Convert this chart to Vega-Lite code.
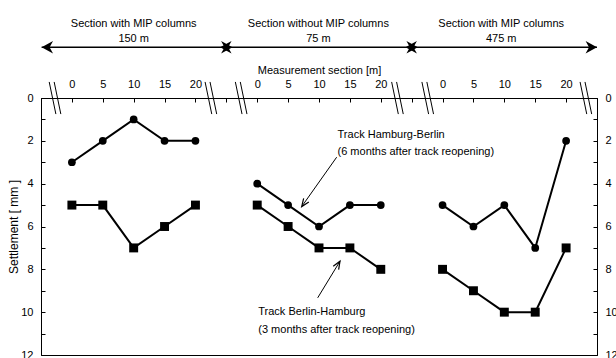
{
  "$schema": "https://vega.github.io/schema/vega-lite/v6.json",
  "autosize": {"type": "none"},
  "padding": {"left": 41, "top": 98, "right": 19, "bottom": 3},
  "width": 556,
  "height": 257,
  "config": {
    "font": "Liberation Sans",
    "view": {"stroke": "#000", "strokeWidth": 1},
    "axis": {"domainColor": "#000", "tickColor": "#000", "tickWidth": 1, "labelColor": "#000", "titleColor": "#000", "labelFontSize": 11, "titleFontSize": 11, "titleFontWeight": "normal", "grid": false, "labelFont": "Liberation Sans", "titleFont": "Liberation Sans"},
    "text": {"font": "Liberation Sans", "fontSize": 11, "color": "#000"}
  },
  "datasets": {
    "settlement": [
      {"track": "Hamburg-Berlin", "section": 1, "x": 0, "settlement": 3},
      {"track": "Hamburg-Berlin", "section": 1, "x": 5, "settlement": 2},
      {"track": "Hamburg-Berlin", "section": 1, "x": 10, "settlement": 1},
      {"track": "Hamburg-Berlin", "section": 1, "x": 15, "settlement": 2},
      {"track": "Hamburg-Berlin", "section": 1, "x": 20, "settlement": 2},
      {"track": "Hamburg-Berlin", "section": 2, "x": 30, "settlement": 4},
      {"track": "Hamburg-Berlin", "section": 2, "x": 35, "settlement": 5},
      {"track": "Hamburg-Berlin", "section": 2, "x": 40, "settlement": 6},
      {"track": "Hamburg-Berlin", "section": 2, "x": 45, "settlement": 5},
      {"track": "Hamburg-Berlin", "section": 2, "x": 50, "settlement": 5},
      {"track": "Hamburg-Berlin", "section": 3, "x": 60, "settlement": 5},
      {"track": "Hamburg-Berlin", "section": 3, "x": 65, "settlement": 6},
      {"track": "Hamburg-Berlin", "section": 3, "x": 70, "settlement": 5},
      {"track": "Hamburg-Berlin", "section": 3, "x": 75, "settlement": 7},
      {"track": "Hamburg-Berlin", "section": 3, "x": 80, "settlement": 2},
      {"track": "Berlin-Hamburg", "section": 1, "x": 0, "settlement": 5},
      {"track": "Berlin-Hamburg", "section": 1, "x": 5, "settlement": 5},
      {"track": "Berlin-Hamburg", "section": 1, "x": 10, "settlement": 7},
      {"track": "Berlin-Hamburg", "section": 1, "x": 15, "settlement": 6},
      {"track": "Berlin-Hamburg", "section": 1, "x": 20, "settlement": 5},
      {"track": "Berlin-Hamburg", "section": 2, "x": 30, "settlement": 5},
      {"track": "Berlin-Hamburg", "section": 2, "x": 35, "settlement": 6},
      {"track": "Berlin-Hamburg", "section": 2, "x": 40, "settlement": 7},
      {"track": "Berlin-Hamburg", "section": 2, "x": 45, "settlement": 7},
      {"track": "Berlin-Hamburg", "section": 2, "x": 50, "settlement": 8},
      {"track": "Berlin-Hamburg", "section": 3, "x": 60, "settlement": 8},
      {"track": "Berlin-Hamburg", "section": 3, "x": 65, "settlement": 9},
      {"track": "Berlin-Hamburg", "section": 3, "x": 70, "settlement": 10},
      {"track": "Berlin-Hamburg", "section": 3, "x": 75, "settlement": 10},
      {"track": "Berlin-Hamburg", "section": 3, "x": 80, "settlement": 7}
    ],
    "breaks": [
      {"xa": -3.67, "xb": -2.59, "ya": -0.75, "yb": 0.75},
      {"xa": -2.87, "xb": -1.79, "ya": -0.75, "yb": 0.75},
      {"xa": 21.56, "xb": 22.64, "ya": -0.75, "yb": 0.75},
      {"xa": 22.36, "xb": 23.44, "ya": -0.75, "yb": 0.75},
      {"xa": 26.46, "xb": 27.54, "ya": -0.75, "yb": 0.75},
      {"xa": 27.26, "xb": 28.34, "ya": -0.75, "yb": 0.75},
      {"xa": 51.76, "xb": 52.84, "ya": -0.75, "yb": 0.75},
      {"xa": 52.56, "xb": 53.64, "ya": -0.75, "yb": 0.75},
      {"xa": 56.66, "xb": 57.74, "ya": -0.75, "yb": 0.75},
      {"xa": 57.46, "xb": 58.54, "ya": -0.75, "yb": 0.75},
      {"xa": 82.26, "xb": 83.34, "ya": -0.75, "yb": 0.75},
      {"xa": 83.06, "xb": 84.14, "ya": -0.75, "yb": 0.75}
    ],
    "headers": [
      {"x": 10, "y": -3.47, "text": "Section with MIP columns"},
      {"x": 10, "y": -2.76, "text": "150 m"},
      {"x": 39.9, "y": -3.47, "text": "Section without MIP columns"},
      {"x": 39.9, "y": -2.76, "text": "75 m"},
      {"x": 69.5, "y": -3.47, "text": "Section with MIP columns"},
      {"x": 69.5, "y": -2.76, "text": "475 m"}
    ],
    "span": [
      {"xa": -4.9, "xb": 85, "y": -2.37}
    ],
    "spanHeads": [
      {"x": -4.9, "y": -2.37, "dir": "left"},
      {"x": 24.0, "y": -2.37, "dir": "left"},
      {"x": 26.0, "y": -2.37, "dir": "right"},
      {"x": 54.0, "y": -2.37, "dir": "left"},
      {"x": 56.0, "y": -2.37, "dir": "right"},
      {"x": 85, "y": -2.37, "dir": "right"}
    ],
    "notes": [
      {"x": 43.0, "y": 1.737, "text": "Track Hamburg-Berlin"},
      {"x": 43.0, "y": 2.53, "text": "(6 months after track reopening)"},
      {"x": 30.17, "y": 10.0, "text": "Track Berlin-Hamburg"},
      {"x": 30.17, "y": 10.81, "text": "(3 months after track reopening)"}
    ],
    "noteLines": [
      {"xa": 42.86, "ya": 2.764, "xb": 37.2, "yb": 5.07},
      {"xa": 39.79, "ya": 9.33, "xb": 43.4, "yb": 7.62}
    ]
  },
  "layer": [
    {
      "data": {"name": "settlement"},
      "mark": {"type": "line", "color": "#000", "strokeWidth": 2},
      "encoding": {
        "x": {"field": "x", "type": "quantitative",
              "scale": {"domain": [-5, 85], "nice": false, "zero": false},
              "axis": {"orient": "top", "title": "Measurement section [m]",
                       "values": [0, 5, 10, 15, 20, 25, 30, 35, 40, 45, 50, 55, 60, 65, 70, 75, 80],
                       "labelExpr": "(datum.value == 25 || datum.value == 55) ? '' : '' + (datum.value % 30)",
                       "tickSize": -4, "labelPadding": 13, "titlePadding": 3, "labelFlush": false, "labelOverlap": false}},
        "y": {"field": "settlement", "type": "quantitative",
              "scale": {"domain": [0, 12], "reverse": true, "nice": false, "zero": false},
              "axis": {"orient": "left", "title": "Settlement [ mm ]", "titleFontSize": 12,
                       "values": [0, 1, 2, 3, 4, 5, 6, 7, 8, 9, 10, 11, 12],
                       "labelExpr": "datum.value % 2 == 0 ? datum.label : ''",
                       "tickSize": -4, "labelPadding": 12, "titlePadding": 0, "labelFlush": false, "labelOverlap": false}},
        "detail": [{"field": "track"}, {"field": "section"}]
      }
    },
    {
      "data": {"name": "settlement"},
      "mark": {"type": "point", "filled": true, "color": "#000", "opacity": 1},
      "encoding": {
        "x": {"field": "x", "type": "quantitative", "axis": null},
        "y": {"field": "settlement", "type": "quantitative",
              "axis": {"orient": "right", "title": null,
                       "values": [0, 1, 2, 3, 4, 5, 6, 7, 8, 9, 10, 11, 12],
                       "labelExpr": "datum.value % 2 == 0 ? datum.label : ''",
                       "tickSize": -4, "labelPadding": 12, "labelFlush": false, "labelOverlap": false}},
        "shape": {"field": "track", "type": "nominal",
                  "scale": {"domain": ["Hamburg-Berlin", "Berlin-Hamburg"], "range": ["circle", "square"]}, "legend": null},
        "size": {"field": "track", "type": "nominal",
                 "scale": {"domain": ["Hamburg-Berlin", "Berlin-Hamburg"], "range": [60, 80]}, "legend": null}
      }
    },
    {
      "data": {"name": "breaks"},
      "mark": {"type": "rule", "color": "#000", "strokeWidth": 1},
      "encoding": {
        "x": {"field": "xa", "type": "quantitative", "axis": null},
        "x2": {"field": "xb"},
        "y": {"field": "ya", "type": "quantitative", "axis": null},
        "y2": {"field": "yb"}
      }
    },
    {
      "data": {"name": "noteLines"},
      "mark": {"type": "rule", "color": "#000", "strokeWidth": 1},
      "encoding": {
        "x": {"field": "xa", "type": "quantitative", "axis": null},
        "x2": {"field": "xb"},
        "y": {"field": "ya", "type": "quantitative", "axis": null},
        "y2": {"field": "yb"}
      }
    },
    {
      "data": {"name": "span"},
      "mark": {"type": "rule", "color": "#000", "strokeWidth": 1.5},
      "encoding": {
        "x": {"field": "xa", "type": "quantitative", "axis": null},
        "x2": {"field": "xb"},
        "y": {"field": "y", "type": "quantitative", "axis": null}
      }
    },
    {
      "data": {"name": "spanHeads"},
      "mark": {"type": "point", "filled": true, "color": "#000", "opacity": 1, "size": 520},
      "encoding": {
        "x": {"field": "x", "type": "quantitative", "axis": null},
        "y": {"field": "y", "type": "quantitative", "axis": null},
        "shape": {"field": "dir", "type": "nominal",
                  "scale": {"domain": ["left", "right"], "range": ["M0,0L1,-0.55L0.7,0L1,0.55Z", "M0,0L-1,-0.55L-0.7,0L-1,0.55Z"]}, "legend": null}
      }
    },
    {
      "data": {"values": [{"x": 37.2, "y": 5.07}]},
      "mark": {"type": "point", "filled": false, "color": "#000", "opacity": 1, "size": 250, "strokeWidth": 1.2,
               "shape": "M-0.4,1L0,0L0.4,1", "angle": 215},
      "encoding": {
        "x": {"field": "x", "type": "quantitative", "axis": null},
        "y": {"field": "y", "type": "quantitative", "axis": null}
      }
    },
    {
      "data": {"values": [{"x": 43.4, "y": 7.62}]},
      "mark": {"type": "point", "filled": false, "color": "#000", "opacity": 1, "size": 250, "strokeWidth": 1.2,
               "shape": "M-0.4,1L0,0L0.4,1", "angle": 31},
      "encoding": {
        "x": {"field": "x", "type": "quantitative", "axis": null},
        "y": {"field": "y", "type": "quantitative", "axis": null}
      }
    },
    {
      "data": {"name": "headers"},
      "mark": {"type": "text", "align": "center", "baseline": "middle", "fontSize": 11},
      "encoding": {
        "x": {"field": "x", "type": "quantitative", "axis": null},
        "y": {"field": "y", "type": "quantitative", "axis": null},
        "text": {"field": "text"}
      }
    },
    {
      "data": {"name": "notes"},
      "mark": {"type": "text", "align": "left", "baseline": "middle", "fontSize": 11},
      "encoding": {
        "x": {"field": "x", "type": "quantitative", "axis": null},
        "y": {"field": "y", "type": "quantitative", "axis": null},
        "text": {"field": "text"}
      }
    }
  ],
  "resolve": {"axis": {"x": "independent", "y": "independent"}, "scale": {"shape": "independent", "size": "independent"}}
}
